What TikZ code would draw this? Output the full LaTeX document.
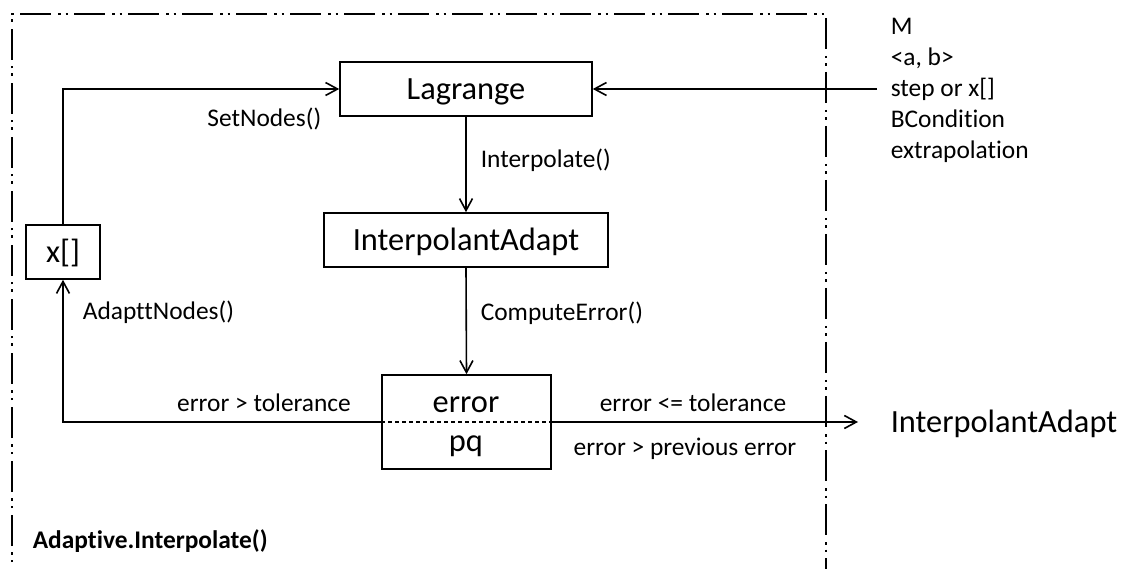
\documentclass[tikz,border=0pt]{standalone}
\usepackage{fontspec}
\setmainfont[Ligatures=NoCommon]{Carlito}
\usetikzlibrary{arrows.meta,calc}
\begin{document}
\begin{tikzpicture}[x=1pt,y=-1pt,
  line width=1.6pt,
  big/.style={font=\fontsize{32.4}{38}\selectfont},
  small/.style={font=\fontsize{25.4}{30.8}\selectfont},
  box/.style={draw,big,inner sep=0pt,text height=20.8pt,text depth=0pt},
  lbl/.style={small,inner sep=0pt,anchor=base west},
  flow/.style={-{Straight Barb[length=12pt,width=13pt]}},
  frame/.style={line width=2.9pt,dash pattern=on 31pt off 7pt on 2.5pt off 5pt on 2.5pt off 6pt}
]
\useasboundingbox (0,0) rectangle (1125,569);

% boundary of Adaptive.Interpolate()
\draw[frame] (12,600) -- (12,14) -- (826,14) -- (826,600);

% boxes
\node[box,minimum width=252pt,minimum height=54pt] (lag) at (466,89) {Lagrange};
\node[box,minimum width=284pt,minimum height=54pt] (ia) at (466,240) {InterpolantAdapt};
\node[box,minimum width=74pt,minimum height=54pt] (xb) at (63,252) {x[]};
\node[draw,minimum width=169pt,minimum height=94pt,inner sep=0pt] (err) at (466.5,422) {};
\node[big,inner sep=0pt,anchor=base] (errt) at (466,413) {error};
\node[big,inner sep=0pt,anchor=base] (pq) at (466,451) {pq};
\draw[line width=1.2pt,dash pattern=on 4pt off 3pt] (err.west) -- (err.east);

% connectors
\coordinate (in) at (877,89);
\coordinate (outtip) at (858,422);
\draw[flow] (xb.north) |- (lag.west);
\draw[flow] (in) -- (lag.east);
\draw[flow] (lag.south) -- (ia.north);
\draw[flow] (ia.south) -- (err.north);
\draw[flow] (err.west) -| (xb.south);
\draw[flow] (err.east) -- (outtip);

% output
\node[big,inner sep=0pt,anchor=base west] (out) at (890,432) {InterpolantAdapt};

% input parameters
\foreach \t [count=\i] in {M,{<a, b>},{step or x[]},BCondition,extrapolation}
  \node[lbl] (p\i) at (890,{35+30.8*(\i-1)}) {\t};

% labels
\node[lbl] (l1) at (480,168) {Interpolate()};
\node[lbl] (l2) at (480,321) {ComputeError()};
\node[lbl] (l3) at (82,320) {AdapttNodes()};
\node[lbl,anchor=base east] (l4) at (322,127) {SetNodes()};
\node[lbl,anchor=base] (l5) at (264,411) {error > tolerance};
\node[lbl,anchor=base] (l6) at (693,411) {error <= tolerance};
\node[lbl,anchor=base] (l7) at (685,455) {error > previous error};
\node[lbl,font=\fontsize{25.4}{30.8}\selectfont\bfseries] (title) at (32,548) {Adaptive.Interpolate()};
\end{tikzpicture}
\end{document}
